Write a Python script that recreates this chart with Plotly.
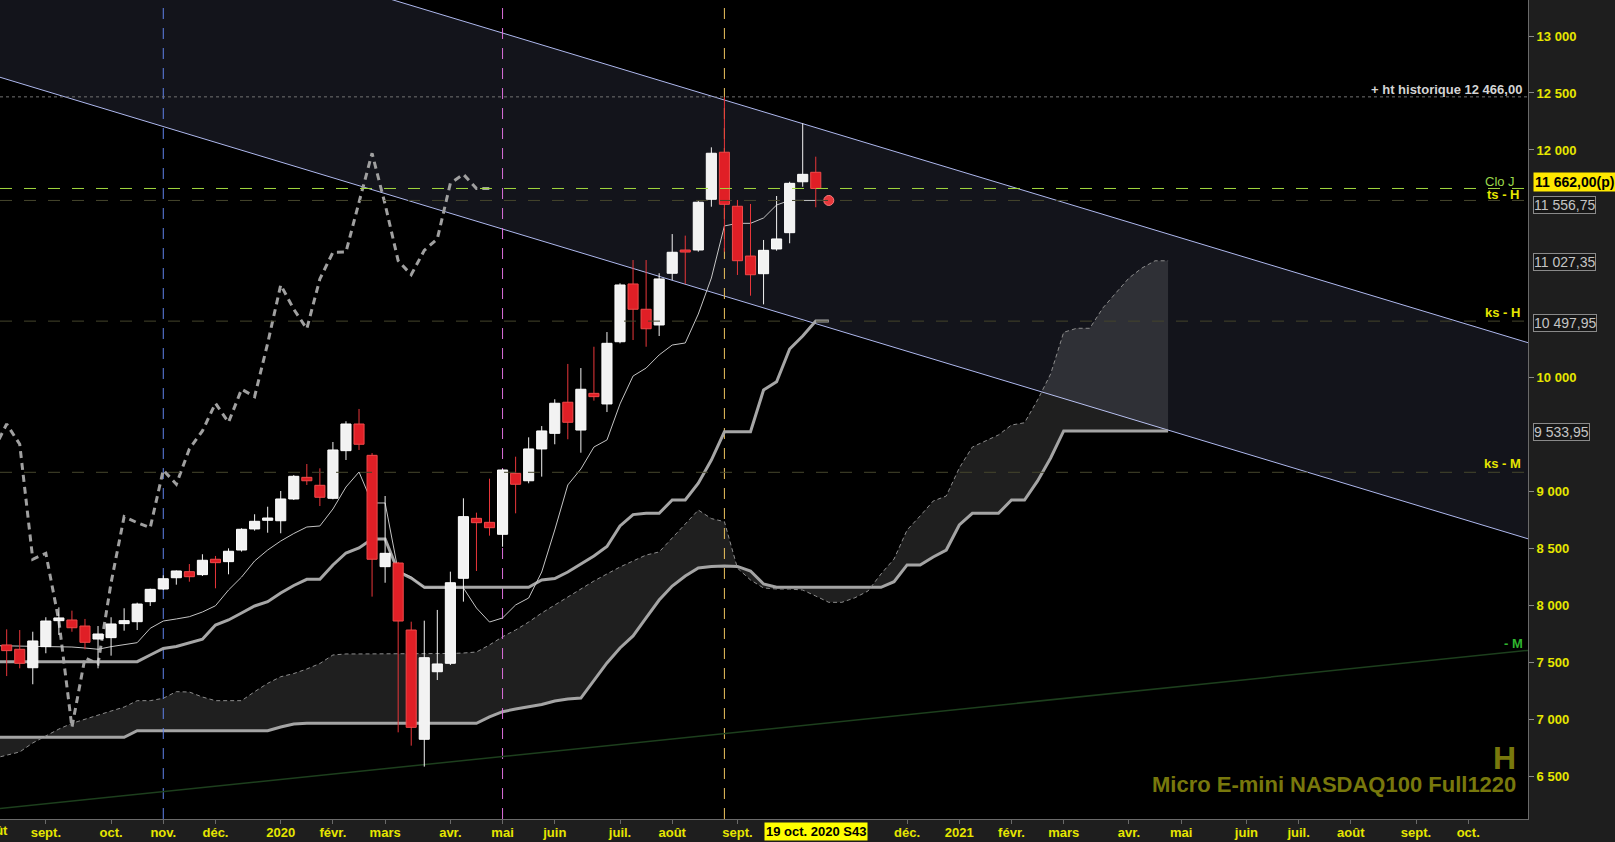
import plotly.graph_objects as go
import pandas as pd

# ---------------- data ----------------
first_week = "2019-08-12"          # first weekly candle (Monday dates)
line_start = "2019-08-05"          # indicator lines start one week earlier (left edge)
opens = [7656, 7618, 7456, 7641, 7869, 7875, 7822, 7708, 7720, 7843,
         7860, 8036, 8147, 8246, 8299, 8273, 8408, 8387, 8489, 8674,
         8750, 8746, 8937, 9127, 9057, 8943, 9361, 9595, 9320, 8343,
         8375, 7787, 6828, 7421, 7495, 8241, 8767, 8732, 8627, 9162,
         9097, 9376, 9513, 9786, 9542, 9864, 9771, 10317, 10824, 10602,
         10464, 10918, 11122, 11122, 11567, 11980, 11506, 11069, 10914, 11131,
         11274, 11721, 11804]
highs = [7793, 7787, 7772, 7899, 7986, 7957, 7884, 7822, 7899, 7978,
         8027, 8150, 8267, 8310, 8366, 8452, 8437, 8504, 8680, 8803,
         8869, 9007, 9147, 9244, 9206, 9437, 9619, 9727, 9340, 8963,
         8385, 7860, 7869, 7963, 8299, 8943, 8817, 9115, 9200, 9308,
         9478, 9577, 9812, 10122, 10086, 10273, 10402, 10830, 11034, 11034,
         10918, 11262, 11248, 11555, 12023, 12466, 11561, 11526, 11210, 11596,
         11721, 12234, 11941]
lows = [7383, 7451, 7311, 7583, 7743, 7772, 7618, 7451, 7562, 7781,
        7787, 7998, 8138, 8185, 8211, 8261, 8153, 8276, 8475, 8659,
        8641, 8636, 8928, 9060, 8875, 8934, 9279, 9367, 8080, 8202,
        6889, 6772, 6588, 7348, 7480, 8036, 8305, 8615, 8518, 8811,
        9075, 9133, 9417, 9461, 9343, 9800, 9700, 10303, 10332, 10273,
        10367, 10859, 10824, 11107, 11502, 11107, 10903, 10721, 10645, 11116,
        11181, 11677, 11497]
closes = [7606, 7495, 7691, 7866, 7893, 7807, 7679, 7752, 7840, 7869,
          8015, 8144, 8237, 8305, 8255, 8399, 8378, 8478, 8671, 8741,
          8770, 8937, 9136, 9097, 8952, 9367, 9595, 9417, 8408, 8460,
          7866, 6933, 7544, 7489, 8202, 8782, 8729, 8685, 9191, 9066,
          9376, 9534, 9777, 9610, 9900, 9835, 10303, 10815, 10602, 10431,
          10868, 11102, 11104, 11541, 11971, 11523, 11028, 10905, 11119, 11219,
          11707, 11786, 11662]

# Ichimoku (weekly), starting at line_start
tenkan = [7650,
          7648, 7647, 7647, 7647, 7642, 7638, 7629, 7618, 7641, 7656,
          7676, 7802, 7866, 7884, 7904, 7945, 8000, 8138, 8252, 8393,
          8489, 8568, 8634, 8691, 8700, 8849, 9042, 9174, 8902, 8902,
          8305, 8252, 8156, 8156, 8156, 8156, 7980, 7857, 7893, 8007,
          8068, 8296, 8665, 9060, 9200, 9393, 9455, 9771, 10016, 10086,
          10201, 10288, 10306, 10560, 10876, 11333, 11356, 11356, 11403, 11517,
          11557, 11557, 11557, 11556.75]
kijun = [7509,
         7509, 7509, 7509, 7509, 7509, 7509, 7509, 7509, 7509, 7509,
         7509, 7568, 7625, 7642, 7673, 7706, 7831, 7875, 7936, 7998,
         8036, 8112, 8178, 8232, 8232, 8358, 8463, 8507, 8586, 8586,
         8299, 8243, 8162, 8162, 8162, 8162, 8162, 8162, 8162, 8162,
         8162, 8226, 8239, 8296, 8366, 8437, 8520, 8700, 8800, 8811,
         8811, 8928, 8928, 9075, 9279, 9527, 9527, 9527, 9893, 9966,
         10253, 10367, 10497.95, 10497.95]
senkou_a = [6660,
            6686, 6717, 6796, 6857, 6918, 6968, 7006, 7041, 7076, 7111,
            7167, 7167, 7188, 7246, 7243, 7199, 7167, 7167, 7167, 7246,
            7319, 7377, 7405, 7445, 7493, 7568, 7577, 7577, 7577, 7577,
            7577, 7577, 7577, 7577, 7581, 7585, 7594, 7656, 7728, 7787,
            7857, 7936, 8007, 8077, 8147, 8217, 8279, 8340, 8393, 8445,
            8472, 8595, 8726, 8840, 8765, 8738, 8330, 8226, 8156, 8147,
            8147, 8138, 8085, 8030, 8030, 8070, 8129, 8279, 8410, 8665,
            8788, 8919, 8963, 9209, 9393, 9446, 9499, 9586, 9606, 9806,
            10034, 10400, 10435, 10435, 10613, 10745, 10876, 10964, 11027.35, 11027.35]
senkou_b = [6846,
            6846, 6846, 6846, 6846, 6846, 6846, 6846, 6846, 6846, 6846,
            6903, 6903, 6903, 6903, 6903, 6903, 6903, 6903, 6903, 6903,
            6903, 6936, 6962, 6968, 6968, 6968, 6968, 6968, 6968, 6968,
            6968, 6968, 6968, 6968, 6968, 6968, 6968, 7024, 7070, 7094,
            7111, 7133, 7164, 7182, 7190, 7344, 7498, 7629, 7735, 7893,
            8050, 8173, 8261, 8331, 8345, 8349, 8345, 8305, 8191, 8162,
            8162, 8162, 8162, 8162, 8162, 8162, 8162, 8162, 8211, 8358,
            8358, 8428, 8489, 8709, 8811, 8811, 8811, 8928, 8928, 9095,
            9297, 9533.95, 9533.95, 9533.95, 9533.95, 9533.95, 9533.95, 9533.95, 9533.95, 9533.95]
chikou_shift = 26

# reference levels
hist_high = 12466.00
clo_j = 11662.00
ts_h = 11556.75
ks_h = 10497.95
ks_m = 9171

# drawn trend lines (anchor dates / prices)
line_dates = ["2019-08-05", "2021-11-08"]
chan_upper = [14375, 10294]
chan_lower = [12655, 8573]
m_line = [6215, 7613]

vline_dates = ["2019-11-04", "2020-05-04", "2020-08-31"]
vline_colors = ["#5f82ea", "#dc70dc", "#eec45e"]

tick_dates = ["2019-09-02", "2019-10-07", "2019-11-04", "2019-12-02", "2020-01-06",
              "2020-02-03", "2020-03-02", "2020-04-06", "2020-05-04", "2020-06-01",
              "2020-07-06", "2020-08-03", "2020-09-07", "2020-12-07", "2021-01-04",
              "2021-02-01", "2021-03-01", "2021-04-05", "2021-05-03", "2021-06-07",
              "2021-07-05", "2021-08-02", "2021-09-06", "2021-10-04"]
tick_text = ["sept.", "oct.", "nov.", "déc.", "2020", "févr.", "mars", "avr.", "mai",
             "juin", "juil.", "août", "sept.", "déc.", "2021", "févr.", "mars", "avr.",
             "mai", "juin", "juil.", "août", "sept.", "oct."]
y_ticks = [6500, 7000, 7500, 8000, 8500, 9000, 10000, 12000, 12500, 13000]
y_tick_text = ["6 500", "7 000", "7 500", "8 000", "8 500", "9 000", "10 000",
               "12 000", "12 500", "13 000"]

x_range = ["2019-08-08 10:00", "2021-11-05 01:30"]
y_range = [6128.5, 13316]

# ---------------- build ----------------
weeks = pd.date_range(first_week, periods=len(closes), freq="7D")
ichi_weeks = pd.date_range(line_start, periods=len(tenkan), freq="7D")
cloud_weeks = pd.date_range(line_start, periods=len(senkou_a), freq="7D")
chikou_y = closes[chikou_shift - 1:] + [closes[-1]]
chikou_x = pd.date_range(line_start, periods=len(chikou_y), freq="7D")

FONT = "Liberation Sans, Arial, sans-serif"
fig = go.Figure()

# channel
fig.add_trace(go.Scatter(x=line_dates, y=chan_lower, mode="lines",
                         line=dict(color="#aeb8ee", width=1)))
fig.add_trace(go.Scatter(x=line_dates, y=chan_upper, mode="lines", fill="tonexty",
                         fillcolor="#13141b", line=dict(color="#aeb8ee", width=1)))
# cloud
fig.add_trace(go.Scatter(x=cloud_weeks, y=senkou_b, mode="lines",
                         line=dict(color="#a4a4a4", width=3)))
fig.add_trace(go.Scatter(x=cloud_weeks, y=senkou_a, mode="lines", fill="tonexty",
                         fillcolor="rgba(255,255,255,0.12)",
                         line=dict(color="#8c8c8c", width=1, dash="4px,3px")))
# vertical markers
for d, c in zip(vline_dates, vline_colors):
    fig.add_trace(go.Scatter(x=[d, d], y=y_range, mode="lines",
                             line=dict(color=c, width=1, dash="11px,9px")))
# monthly trend line
fig.add_trace(go.Scatter(x=line_dates, y=m_line, mode="lines",
                         line=dict(color="#1d3f1d", width=1.5)))
# chikou, kijun, tenkan
fig.add_trace(go.Scatter(x=chikou_x, y=chikou_y, mode="lines",
                         line=dict(color="#a0a0a0", width=3, dash="7px,5px")))
fig.add_trace(go.Scatter(x=ichi_weeks, y=kijun, mode="lines",
                         line=dict(color="#a6a6a6", width=3)))
fig.add_trace(go.Scatter(x=ichi_weeks, y=tenkan, mode="lines",
                         line=dict(color="#c4c4c4", width=1)))

# candles drawn as scatter shapes so they sit above the indicator lines
half = pd.Timedelta(hours=65)   # half body width
for up, wick_col, body_fill, body_line in [(True, "#f2f2f2", "#f2f2f2", "#ffffff"),
                                           (False, "#e8363a", "#e01f26", "#f04a4a")]:
    wx, wy, bx, by = [], [], [], []
    for d, o, h, l, c in zip(weeks, opens, highs, lows, closes):
        if (c >= o) != up:
            continue
        wx += [d, d, None]
        wy += [l, h, None]
        bx += [d - half, d + half, d + half, d - half, d - half, None]
        by += [o, o, c, c, o, None]
    fig.add_trace(go.Scatter(x=wx, y=wy, mode="lines",
                             line=dict(color=wick_col, width=1)))
    fig.add_trace(go.Scatter(x=bx, y=by, mode="lines", fill="toself",
                             fillcolor=body_fill, line=dict(color=body_line, width=1)))

fig.add_trace(go.Scatter(x=[ichi_weeks[-1]], y=[tenkan[-1]], mode="markers",
                         marker=dict(color="#e8383c", size=10,
                                     line=dict(color="#ff7a7a", width=1))))

# horizontal levels
def hline(v, color, dash):
    fig.add_shape(type="line", xref="paper", x0=0, x1=1, yref="y", y0=v, y1=v,
                  line=dict(color=color, width=1, dash=dash), layer="above")

hline(hist_high, "#727272", "3px,3px")
hline(ts_h, "#45452c", "12px,12px")
hline(ks_h, "#45452c", "12px,12px")
hline(ks_m, "#45452c", "12px,12px")
hline(clo_j, "#a2d83e", "12px,12px")

# ---------------- annotations ----------------
PW, PH = 1528.0, 819.0
def px(xp):
    return xp / PW
def py(yp):
    return 1 - yp / PH

anns = []
def lab(text, xp, yp, color, size=13, bold=True, xanchor="right", **kw):
    anns.append(dict(text=text, xref="paper", yref="paper", x=px(xp), y=py(yp),
                     xanchor=xanchor, yanchor="middle", showarrow=False,
                     font=dict(family=FONT, size=size, color=color,
                               weight="bold" if bold else "normal"), **kw))

lab("+ ht historique 12 466,00", 1524, 89.5, "#d4d4d4")
lab("Clo J", 1517, 181.5, "#9ad84a", bold=False)
lab("ts - H", 1522, 194, "#e6e600")
lab("ks - H", 1522, 312.5, "#e6e600")
lab("ks - M", 1523, 463, "#e6e600")
lab("- M", 1525, 643, "#2fb52f")

# right axis tags
lab("11 662,00(p)", 1533, 182, "#000000", size=14, xanchor="left",
    bgcolor="#ffe800", borderpad=1)
for txt, yp in [("11 556,75", 204.5), ("11 027,35", 261.8),
                ("10 497,95", 323.5), ("9 533,95", 432.2)]:
    lab(txt, 1533, yp, "#c4c4c4", bold=False, size=14, xanchor="left",
        bgcolor="#161616", bordercolor="#8a8a8a", borderwidth=1, borderpad=0)

# watermark
lab("H", 1518, 758, "#78780c", size=32)
lab("Micro E-mini NASDAQ100 Full1220", 1518, 784, "#78780c", size=22)

# date box and clipped first month label
lab("19 oct. 2020 S43", 815.7, 831, "#000000", xanchor="center",
    bgcolor="#ffff00", borderpad=1)
lab("août", -6.5, 830, "#e6e600", xanchor="center")

fig.update_layout(
    width=1615, height=842, autosize=False,
    margin=dict(l=0, r=87, t=0, b=23, pad=0),
    paper_bgcolor="#1e1e1e", plot_bgcolor="#000000",
    showlegend=False, hovermode=False,
    annotations=anns,
    font=dict(family=FONT),
    xaxis=dict(type="date", range=x_range,
               showgrid=False, zeroline=False, showline=True, linecolor="#6a6a6a",
               mirror=True, ticks="outside", ticklen=4, tickcolor="#6a6a6a",
               ticklabelstandoff=-3,
               tickvals=tick_dates, ticktext=tick_text,
               tickfont=dict(family=FONT, size=13, color="#e6e600", weight="bold")),
    yaxis=dict(range=y_range, side="right", showgrid=False, zeroline=False,
               showline=True, linecolor="#6a6a6a", mirror=True, ticks="outside",
               ticklen=5, tickcolor="#8a8a8a", tickvals=y_ticks, ticktext=y_tick_text,
               tickfont=dict(family=FONT, size=13, color="#e6e600", weight="bold")),
)

fig.write_html("out.html", config={"displayModeBar": False},
               post_script="document.body.style.margin='0';document.body.style.overflow='hidden';")
